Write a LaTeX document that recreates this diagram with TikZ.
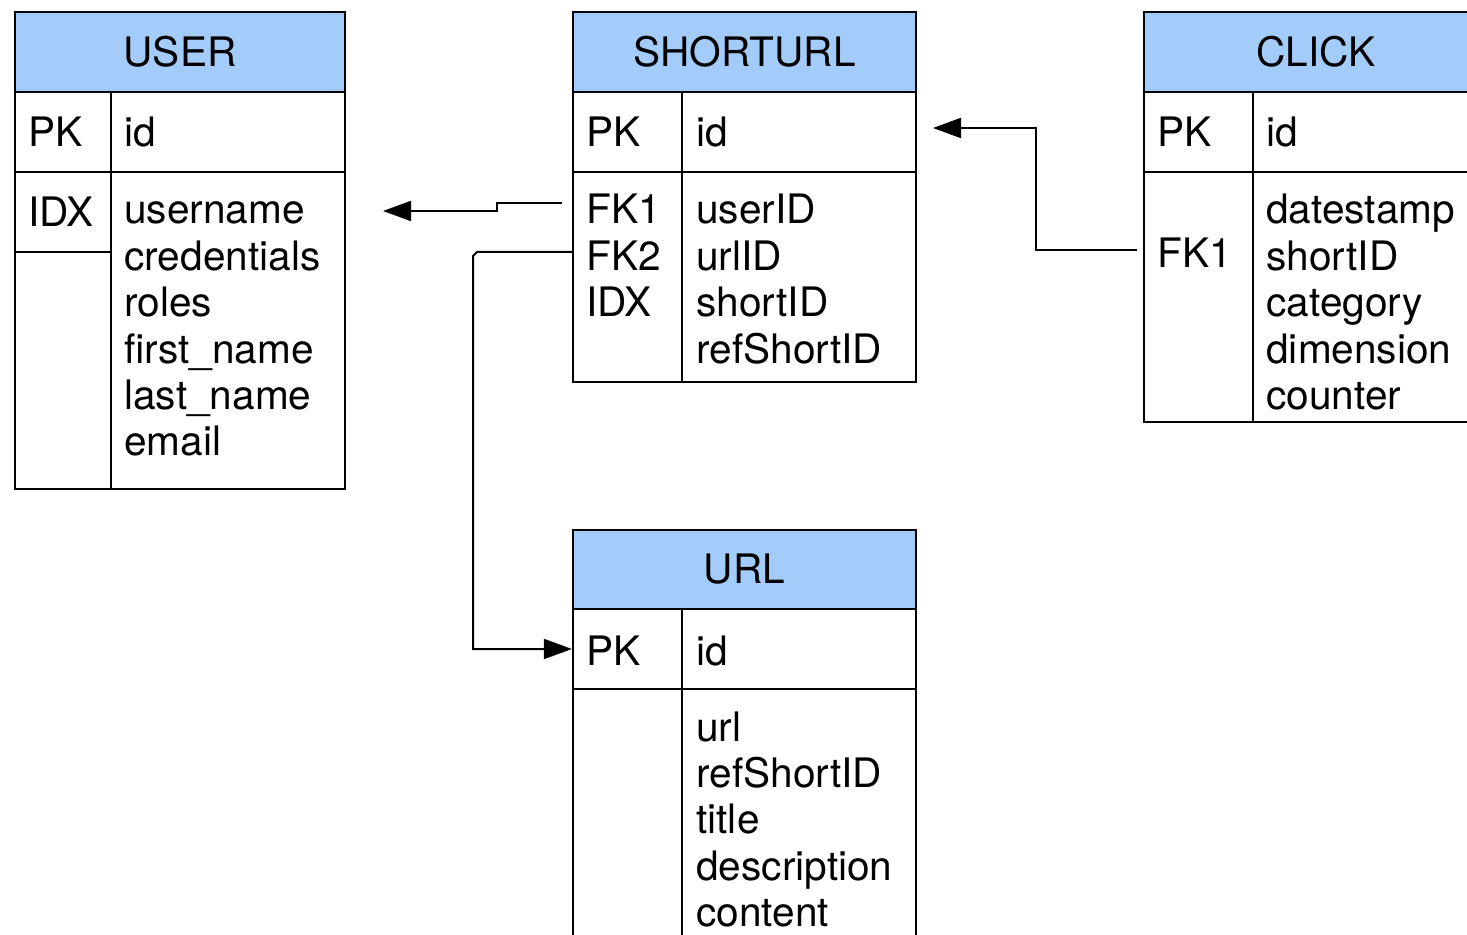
\documentclass[tikz,border=0pt]{standalone}
\usepackage{fontspec}
\setmainfont{TeX Gyre Heros}
\usetikzlibrary{arrows.meta,fit}
\definecolor{hdrblue}{RGB}{164,204,250}
\begin{document}
\begin{tikzpicture}[x=0.5pt,y=-0.5pt,
  box/.style={draw, line width=1.1pt, inner sep=0pt},
  hdr/.style={box, fill=hdrblue},
  rule/.style={line width=1.1pt},
  ttl/.style={inner sep=0pt, font=\fontsize{20.3}{23.25}\selectfont},
  txt/.style={anchor=base west, inner sep=0pt, font=\fontsize{20.3}{23.25}\selectfont},
  fk/.style={line width=1pt, -{Triangle[length=14pt,width=10pt]}}]
\useasboundingbox (0,0) rectangle (1467,935);
\clip (0,0) rectangle (1467,935);

% ---------- USER ----------
\node[hdr, fit={(15,12)(345,92)}] (userH) {};
\node[ttl] (userT) at (userH.center) {USER};
\node[box, fit={(15,92)(345,172)}] (userPK) {};
\node[box, fit={(15,172)(345,489)}] (userB) {};
\node[box, fit={(15,172)(111,252)}] (userIDX) {};
\draw[rule] (userPK.north west -| 111,0) -- (userB.south west -| 111,0);
\node[txt] (userK0) at (28,147) {PK};
\node[txt] (userN0) at (124,147) {id};
\node[txt] (userK1) at (28,227) {IDX};
\foreach \t [count=\i from 0] in {username,credentials,roles,first\_name,last\_name,email}
  \node[txt] (userF\i) at (124,{224+46.4*\i}) {\t};

% ---------- SHORTURL ----------
\node[hdr, fit={(573,12)(916,92)}] (suH) {};
\node[ttl] (suT) at (suH.center) {SHORTURL};
\node[box, fit={(573,92)(916,172)}] (suPK) {};
\node[box, fit={(573,172)(916,382)}] (suB) {};
\draw[rule] (suPK.north west -| 682,0) -- (suB.south west -| 682,0);
\node[txt] (suK0) at (586,147) {PK};
\node[txt] (suN0) at (696,147) {id};
\foreach \t [count=\i from 0] in {FK1,FK2,IDX}
  \node[txt] (suK\i) at (586,{224+46.4*\i}) {\t};
\foreach \t [count=\i from 0] in {userID,urlID,shortID,refShortID}
  \node[txt] (suF\i) at (696,{224+46.4*\i}) {\t};

% ---------- CLICK ----------
\node[hdr, fit={(1144,12)(1488,92)}] (clH) {};
\node[ttl] (clT) at (clH.center) {CLICK};
\node[box, fit={(1144,92)(1488,172)}] (clPK) {};
\node[box, fit={(1144,172)(1488,422)}] (clB) {};
\draw[rule] (clPK.north west -| 1253,0) -- (clB.south west -| 1253,0);
\node[txt] (clK0) at (1157,147) {PK};
\node[txt] (clN0) at (1266,147) {id};
\node[txt] (clK1) at (1157,268) {FK1};
\foreach \t [count=\i from 0] in {datestamp,shortID,category,dimension,counter}
  \node[txt] (clF\i) at (1266,{224+46.4*\i}) {\t};

% ---------- URL ----------
\node[hdr, fit={(573,530)(916,609)}] (urlH) {};
\node[ttl] (urlT) at (urlH.center) {URL};
\node[box, fit={(573,609)(916,689)}] (urlPK) {};
\node[box, fit={(573,689)(916,970)}] (urlB) {};
\draw[rule] (urlPK.north west -| 682,0) -- (urlB.south west -| 682,0);
\node[txt] (urlK0) at (586,665) {PK};
\node[txt] (urlN0) at (696,665) {id};
\foreach \t [count=\i from 0] in {url,refShortID,title,description,content}
  \node[txt] (urlF\i) at (696,{741+46.4*\i}) {\t};

% ---------- relations ----------
\coordinate (suFK1out) at (562,203);
\coordinate (userIn)   at (383,211);
\coordinate (suFK2out) at (573,252);
\coordinate (clFKout)  at (1137,250);
\coordinate (suIn)     at (933,128);

\draw[fk] (suFK1out) -- ++(-65,0) -- ++(0,8) -- (userIn);
\draw[fk] (suFK2out) -- ++(-96,0) -- ++(-4,4) -- (473,649) -- (urlPK.west);
\draw[fk] (clFKout) -- ++(-101,0) -- ++(0,-122) -- (suIn);
\end{tikzpicture}
\end{document}
